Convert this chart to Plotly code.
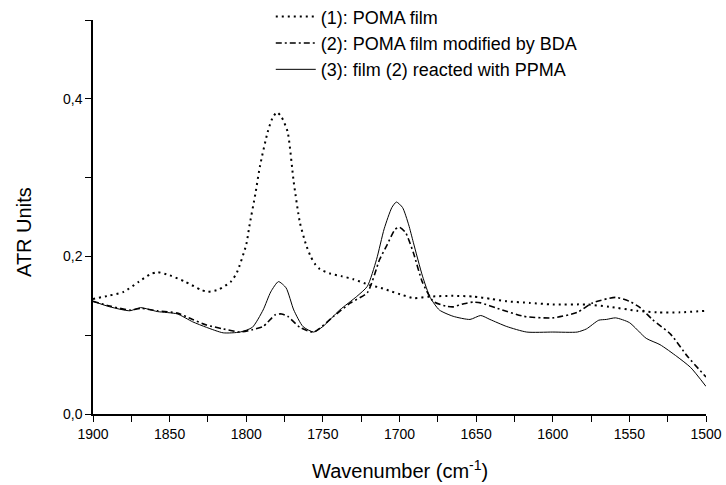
import plotly.graph_objects as go

# (1) POMA film - dotted
x1 = [1900, 1890, 1880, 1870, 1863, 1858, 1850, 1840, 1830, 1825, 1818, 1810, 1806, 1800,
      1798, 1794, 1791, 1786, 1783, 1780, 1777, 1773, 1769, 1765, 1761, 1758, 1755, 1752,
      1745, 1738, 1730, 1720, 1712, 1706, 1698, 1691, 1680, 1665, 1652, 1640, 1630, 1615,
      1600, 1578, 1563, 1545, 1532, 1517, 1500]
y1 = [0.146, 0.150, 0.155, 0.168, 0.177, 0.180, 0.176, 0.168, 0.158, 0.155, 0.158, 0.168,
      0.180, 0.215, 0.238, 0.280, 0.315, 0.358, 0.375, 0.383, 0.377, 0.358, 0.294, 0.243,
      0.215, 0.200, 0.190, 0.184, 0.178, 0.175, 0.171, 0.164, 0.160, 0.156, 0.151, 0.147,
      0.149, 0.150, 0.149, 0.146, 0.143, 0.141, 0.139, 0.139, 0.136, 0.131, 0.129, 0.129,
      0.131]

# (2) POMA film modified by BDA - dash-dot
x2 = [1900, 1889, 1876, 1869, 1858, 1845, 1835, 1826, 1815, 1804, 1796, 1789, 1781, 1777,
      1773, 1765, 1756, 1743, 1732, 1721, 1713, 1708, 1703, 1700, 1696, 1691, 1685, 1678,
      1670, 1665, 1658, 1652, 1647, 1636, 1619, 1600, 1584, 1574, 1559, 1550, 1543, 1535,
      1523, 1512, 1500]
y2 = [0.143, 0.137, 0.132, 0.134, 0.131, 0.128, 0.120, 0.113, 0.108, 0.104, 0.107, 0.111,
      0.126, 0.127, 0.124, 0.110, 0.104, 0.124, 0.141, 0.154, 0.196, 0.215, 0.234, 0.237,
      0.230, 0.205, 0.167, 0.143, 0.137, 0.136, 0.140, 0.142, 0.141, 0.134, 0.124, 0.122,
      0.129, 0.141, 0.148, 0.143, 0.135, 0.120, 0.101, 0.073, 0.047]

# (3) film (2) reacted with PPMA - solid
x3 = [1900, 1889, 1876, 1869, 1858, 1845, 1835, 1826, 1815, 1804, 1796, 1789, 1784, 1779,
      1774, 1769, 1763, 1756, 1750, 1739, 1728, 1721, 1715, 1710, 1705, 1702, 1698, 1694,
      1691, 1685, 1680, 1674, 1665, 1654, 1647, 1641, 1630, 1617, 1600, 1584, 1578, 1570,
      1565, 1559, 1550, 1539, 1530, 1519, 1510, 1500]
y3 = [0.143, 0.136, 0.131, 0.135, 0.130, 0.127, 0.117, 0.110, 0.103, 0.104, 0.110, 0.132,
      0.155, 0.168, 0.160, 0.132, 0.111, 0.104, 0.111, 0.132, 0.149, 0.162, 0.196, 0.235,
      0.262, 0.269, 0.262, 0.240, 0.218, 0.175, 0.148, 0.132, 0.124, 0.120, 0.125, 0.120,
      0.111, 0.104, 0.104, 0.104, 0.108, 0.119, 0.120, 0.122, 0.116, 0.096, 0.088, 0.073,
      0.059, 0.035]

names = ["(1): POMA film", "(2): POMA film modified by BDA", "(3): film (2) reacted with PPMA"]

y_tickvals = [0.0, 0.2, 0.4]
y_ticktext = ["0,0", "0,2", "0,4"]
x_tickvals = [1900, 1850, 1800, 1750, 1700, 1650, 1600, 1550, 1500]

x_title = "Wavenumber (cm<sup>-1</sup>)"
y_title = "ATR Units"

FONT = "Liberation Sans, Arial, sans-serif"

fig = go.Figure()
fig.add_trace(go.Scatter(x=x1, y=y1, mode="lines", name=names[0],
                         line=dict(color="black", width=2, dash="2px,4px", shape="spline", smoothing=0.6)))
fig.add_trace(go.Scatter(x=x2, y=y2, mode="lines", name=names[1],
                         line=dict(color="black", width=1.6, dash="6px,3px,2px,3px", shape="spline", smoothing=0.6)))
fig.add_trace(go.Scatter(x=x3, y=y3, mode="lines", name=names[2],
                         line=dict(color="black", width=1, shape="spline", smoothing=0.6)))

fig.update_layout(
    width=726, height=485,
    margin=dict(l=93, r=20, t=20, b=71, autoexpand=False),
    paper_bgcolor="white", plot_bgcolor="white",
    font=dict(family=FONT, size=14, color="black"),
    showlegend=True,
    legend=dict(x=0.29, y=1.055, xanchor="left", yanchor="top",
                bgcolor="rgba(0,0,0,0)", font=dict(size=18, family=FONT),
                tracegroupgap=0, itemwidth=40),
    xaxis=dict(range=[1900, 1500], tickvals=x_tickvals, ticks="outside", ticklen=6,
               tickwidth=1, tickcolor="black", showline=True, linecolor="black", linewidth=1.5,
               showgrid=False, zeroline=False,
               minor=dict(dtick=25, ticks="outside", ticklen=6, tickcolor="black", showgrid=False),
               tickfont=dict(size=14, family=FONT)),
    yaxis=dict(range=[0, 0.5], tickvals=y_tickvals, ticktext=y_ticktext, ticks="outside",
               ticklen=6, tickwidth=1, tickcolor="black", showline=True, linecolor="black",
               linewidth=1.5, showgrid=False, zeroline=False,
               minor=dict(dtick=0.1, ticks="outside", ticklen=6, tickcolor="black", showgrid=False),
               tickfont=dict(size=14, family=FONT)),
    annotations=[
        dict(text=x_title, xref="paper", yref="paper", x=0.5, y=-0.142,
             xanchor="center", yanchor="middle", showarrow=False,
             font=dict(size=20, family=FONT, color="black")),
        dict(text=y_title, xref="paper", yref="paper", x=-0.1126, y=0.462,
             xanchor="center", yanchor="middle", textangle=-90, showarrow=False,
             font=dict(size=20, family=FONT, color="black")),
    ],
)

fig.write_html("out.html")
